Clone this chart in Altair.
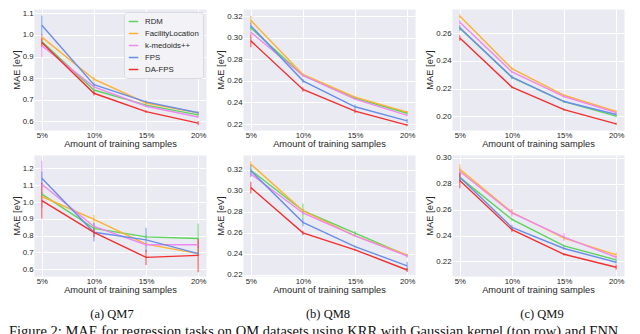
import altair as alt
import pandas as pd

methods = ["RDM", "FacilityLocation", "k-medoids++", "FPS", "DA-FPS"]
colors = ["#5dd35d", "#ffb02e", "#ee88ee", "#6a8ee8", "#f22f2f"]
train_pct = [5, 10, 15, 20]
x_title = "Amount of training samples"
y_title = "MAE [eV]"
subcaptions = ["(a) QM7", "(b) QM8", "(c) QM9"]
figure_caption = ("Figure 2: MAE for regression tasks on QM datasets using KRR with "
                  "Gaussian kernel (top row) and FNN")

# ---- KRR (top row) ----
qm7_krr = {
    "RDM": [0.970, 0.745, 0.675, 0.630],
    "FacilityLocation": [0.990, 0.795, 0.685, 0.640],
    "k-medoids++": [0.950, 0.760, 0.670, 0.620],
    "FPS": [1.045, 0.770, 0.690, 0.640],
    "DA-FPS": [0.965, 0.730, 0.645, 0.592],
}
qm7_krr_err = {
    "RDM": [0.010, 0.008, 0.006, 0.006],
    "FacilityLocation": [0.012, 0.010, 0.006, 0.006],
    "k-medoids++": [0.055, 0.010, 0.006, 0.006],
    "FPS": [0.045, 0.010, 0.008, 0.006],
    "DA-FPS": [0.020, 0.010, 0.006, 0.010],
}
qm8_krr = {
    "RDM": [0.309, 0.265, 0.244, 0.230],
    "FacilityLocation": [0.316, 0.266, 0.245, 0.231],
    "k-medoids++": [0.305, 0.265, 0.243, 0.228],
    "FPS": [0.311, 0.260, 0.236, 0.223],
    "DA-FPS": [0.297, 0.252, 0.232, 0.219],
}
qm8_krr_err = {
    "RDM": [0.002, 0.001, 0.001, 0.001],
    "FacilityLocation": [0.004, 0.001, 0.001, 0.001],
    "k-medoids++": [0.002, 0.001, 0.001, 0.001],
    "FPS": [0.003, 0.002, 0.002, 0.002],
    "DA-FPS": [0.006, 0.002, 0.002, 0.001],
}
qm9_krr = {
    "RDM": [0.2635, 0.2280, 0.2105, 0.2000],
    "FacilityLocation": [0.2724, 0.2344, 0.2151, 0.2035],
    "k-medoids++": [0.2680, 0.2320, 0.2142, 0.2026],
    "FPS": [0.2640, 0.2282, 0.2106, 0.2012],
    "DA-FPS": [0.2565, 0.2210, 0.2047, 0.1944],
}
qm9_krr_err = {
    "RDM": [0.0015, 0.0010, 0.0008, 0.0008],
    "FacilityLocation": [0.0015, 0.0010, 0.0008, 0.0008],
    "k-medoids++": [0.0015, 0.0010, 0.0008, 0.0008],
    "FPS": [0.0020, 0.0015, 0.0008, 0.0008],
    "DA-FPS": [0.0020, 0.0010, 0.0008, 0.0008],
}

# ---- FNN (bottom row) ----
qm7_fnn = {
    "RDM": [1.047, 0.843, 0.793, 0.783],
    "FacilityLocation": [1.033, 0.897, 0.750, 0.693],
    "k-medoids++": [1.106, 0.855, 0.746, 0.746],
    "FPS": [1.141, 0.820, 0.775, 0.693],
    "DA-FPS": [1.008, 0.820, 0.671, 0.683],
}
qm7_fnn_err = {
    "RDM": [0.010, 0.020, 0.010, 0.090],
    "FacilityLocation": [0.010, 0.026, 0.010, 0.010],
    "k-medoids++": [0.140, 0.020, 0.010, 0.020],
    "FPS": [0.040, 0.055, 0.072, 0.010],
    "DA-FPS": [0.106, 0.030, 0.045, 0.100],
}
qm8_fnn = {
    "RDM": [0.3195, 0.2810, 0.2597, 0.2384],
    "FacilityLocation": [0.3253, 0.2810, 0.2572, 0.2390],
    "k-medoids++": [0.3160, 0.2789, 0.2572, 0.2380],
    "FPS": [0.3190, 0.2700, 0.2470, 0.2286],
    "DA-FPS": [0.3030, 0.2600, 0.2439, 0.2247],
}
qm8_fnn_err = {
    "RDM": [0.002, 0.007, 0.002, 0.001],
    "FacilityLocation": [0.003, 0.002, 0.001, 0.001],
    "k-medoids++": [0.002, 0.002, 0.001, 0.002],
    "FPS": [0.006, 0.004, 0.001, 0.004],
    "DA-FPS": [0.0055, 0.002, 0.001, 0.002],
}
qm9_fnn = {
    "RDM": [0.2850, 0.2525, 0.2320, 0.2212],
    "FacilityLocation": [0.2912, 0.2580, 0.2380, 0.2250],
    "k-medoids++": [0.2895, 0.2575, 0.2388, 0.2232],
    "FPS": [0.2850, 0.2463, 0.2300, 0.2193],
    "DA-FPS": [0.2825, 0.2445, 0.2255, 0.2155],
}
qm9_fnn_err = {
    "RDM": [0.002, 0.001, 0.001, 0.001],
    "FacilityLocation": [0.004, 0.002, 0.001, 0.002],
    "k-medoids++": [0.003, 0.003, 0.003, 0.001],
    "FPS": [0.003, 0.002, 0.001, 0.001],
    "DA-FPS": [0.006, 0.002, 0.001, 0.002],
}

W, H = 172, 121
BG = "#eaeaf2"
TXT = "#262626"


def make_df(means, errs):
    rows = []
    for m in methods:
        for x, v, e in zip(train_pct, means[m], errs[m]):
            rows.append({"pct": x, "method": m, "mae": v, "lo": v - e, "hi": v + e})
    return pd.DataFrame(rows)


def panel(means, errs, ydomain, yticks, yfmt, legend=False, subcap=None, subdx=0):
    df = make_df(means, errs)
    if legend:
        leg = alt.Legend(title=None, orient="top-right", offset=3,
                         symbolType="stroke", symbolSize=90, symbolStrokeWidth=1.5,
                         symbolOpacity=1, labelFontSize=7.8, labelFont="Liberation Sans",
                         labelColor=TXT, fillColor="#f3f3f7", strokeColor="#dadae2",
                         padding=4, rowPadding=2.0, cornerRadius=3, labelOffset=6,
                         labelOverlap=False)
        color = alt.Color("method:N", scale=alt.Scale(domain=methods, range=colors),
                          legend=leg, sort=methods)
    else:
        color = alt.Color("method:N", scale=alt.Scale(domain=methods, range=colors),
                          legend=None, sort=methods)
    xscale = alt.Scale(domain=[4.25, 20.75], nice=False)
    xaxis = alt.Axis(values=train_pct, labelExpr="datum.value + '%'", title=x_title,
                     labelOverlap=False)
    yscale = alt.Scale(domain=ydomain, nice=False, zero=False)
    yaxis = alt.Axis(values=yticks, format=yfmt, title=y_title, labelOverlap=False)
    base = alt.Chart(df)
    bars = base.mark_rule(strokeWidth=1.6, opacity=0.55, clip=True).encode(
        x=alt.X("pct:Q", scale=xscale, axis=xaxis),
        y=alt.Y("lo:Q", scale=yscale, axis=yaxis),
        y2="hi:Q", color=color)
    lines = base.mark_line(strokeWidth=1.4, clip=True).encode(
        x=alt.X("pct:Q", scale=xscale, axis=xaxis),
        y=alt.Y("mae:Q", scale=yscale, axis=yaxis),
        color=color)
    props = dict(width=W, height=H, view=alt.ViewBackground(fill=BG, stroke="transparent"))
    if subcap:
        props["title"] = alt.TitleParams(subcap, orient="bottom", font="Liberation Serif",
                                         fontSize=12.5, fontWeight="normal", color="#111111",
                                         offset=13, anchor="middle", dx=subdx)
    return alt.layer(bars, lines).properties(**props)


p1 = panel(qm7_krr, qm7_krr_err, [0.56, 1.12], [0.6, 0.7, 0.8, 0.9, 1.0, 1.1], ".1f", legend=True)
p2 = panel(qm8_krr, qm8_krr_err, [0.2145, 0.3265], [0.22, 0.24, 0.26, 0.28, 0.30, 0.32], ".2f")
p3 = panel(qm9_krr, qm9_krr_err, [0.190, 0.2775], [0.20, 0.22, 0.24, 0.26], ".2f")
p4 = panel(qm7_fnn, qm7_fnn_err, [0.56, 1.28], [0.6, 0.7, 0.8, 0.9, 1.0, 1.1, 1.2], ".1f",
           subcap=subcaptions[0], subdx=-8)
p5 = panel(qm8_fnn, qm8_fnn_err, [0.219, 0.334], [0.22, 0.24, 0.26, 0.28, 0.30, 0.32], ".2f",
           subcap=subcaptions[1], subdx=-1)
p6 = panel(qm9_fnn, qm9_fnn_err, [0.2087, 0.3023], [0.22, 0.24, 0.26, 0.28, 0.30], ".2f",
           subcap=subcaptions[2], subdx=4)

top = alt.hconcat(p1, p2, p3, spacing=9).resolve_scale(color="independent").resolve_legend(color="independent")
bottom = alt.hconcat(p4, p5, p6, spacing=9).resolve_scale(color="independent").resolve_legend(color="independent")
grid = alt.vconcat(top, bottom, spacing=3).resolve_scale(color="independent").resolve_legend(color="independent")

cap_df = pd.DataFrame({"caption": [figure_caption]})
strip = alt.Chart(cap_df).mark_text(font="Liberation Serif", fontSize=14.5, align="left",
                                    baseline="alphabetic", color="#111111").encode(
    text="caption:N", x=alt.value(-25), y=alt.value(11.5)
).properties(width=400, height=6, view=alt.ViewBackground(stroke="transparent"))

chart = alt.vconcat(grid, strip, spacing=1).resolve_scale(color="independent").properties(
    padding=0, background="white"
).configure_view(stroke="transparent").configure_axis(
    domain=False, ticks=False, grid=True, gridColor="white", gridWidth=1,
    labelFont="Liberation Sans", labelFontSize=7.8, labelColor=TXT,
    titleFont="Liberation Sans", titleFontSize=9.3, titleFontWeight="normal", titleColor=TXT,
    labelPadding=1, titlePadding=1, labelOverlap=False
)

chart.save("out.html", embed_options={"renderer": "svg", "actions": False})
